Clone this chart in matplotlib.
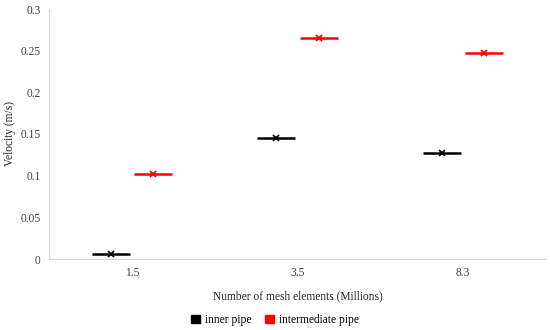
import matplotlib
matplotlib.use("Agg")
import matplotlib.pyplot as plt
from matplotlib.patches import Patch
import numpy as np

categories = ["1.5", "3.5", "8.3"]
inner_pipe = [0.006, 0.145, 0.127]
intermediate_pipe = [0.102, 0.265, 0.247]
y_ticks = [0, 0.05, 0.1, 0.15, 0.2, 0.25, 0.3]
y_tick_labels = ["0", "0.05", "0.1", "0.15", "0.2", "0.25", "0.3"]

plt.rcParams['font.family'] = ['Liberation Serif', 'DejaVu Serif']

fig = plt.figure(figsize=(5.5, 3.3), dpi=100)
ax = fig.add_axes([49/550, 71/330, 497/550, 250/330])

x = np.arange(len(categories))
off = 0.128
hw = 0.115
for vals, col, d in [(inner_pipe, 'black', -off), (intermediate_pipe, '#ff0000', off)]:
    xs = x + d
    ax.hlines(vals, xs - hw, xs + hw, colors=col, linewidth=1.8)
    ax.plot(xs, vals, linestyle='none', marker='x', color=col, markersize=5, markeredgewidth=1.3)

ax.set_xlim(-0.5, 2.5)
ax.set_ylim(0, 0.3)
ax.set_xticks(x)
ax.set_xticklabels(categories)
ax.set_yticks(y_ticks)
ax.set_yticklabels(y_tick_labels)
ax.tick_params(length=0, labelsize=8.3, colors='#404040', pad=6)
for s in ['top', 'right']:
    ax.spines[s].set_visible(False)
for s in ['left', 'bottom']:
    ax.spines[s].set_color('#d9d9d9')
    ax.spines[s].set_linewidth(0.8)

ax.set_ylabel("Velocity (m/s)", fontsize=8.3, color='#262626', labelpad=3)
ax.set_xlabel("Number of mesh elements (Millions)", fontsize=8.3, color='#262626', labelpad=8)

handles = [Patch(facecolor='black', edgecolor='black', label='inner pipe'),
           Patch(facecolor='#ff0000', edgecolor='#ff0000', label='intermediate pipe')]
fig.legend(handles=handles, loc='center', bbox_to_anchor=(0.5, 10/330), ncol=2,
           frameon=False, fontsize=8.3, handlelength=0.8, handleheight=0.8,
           handletextpad=0.4, columnspacing=1.2)

fig.savefig("out.png", dpi=100)
